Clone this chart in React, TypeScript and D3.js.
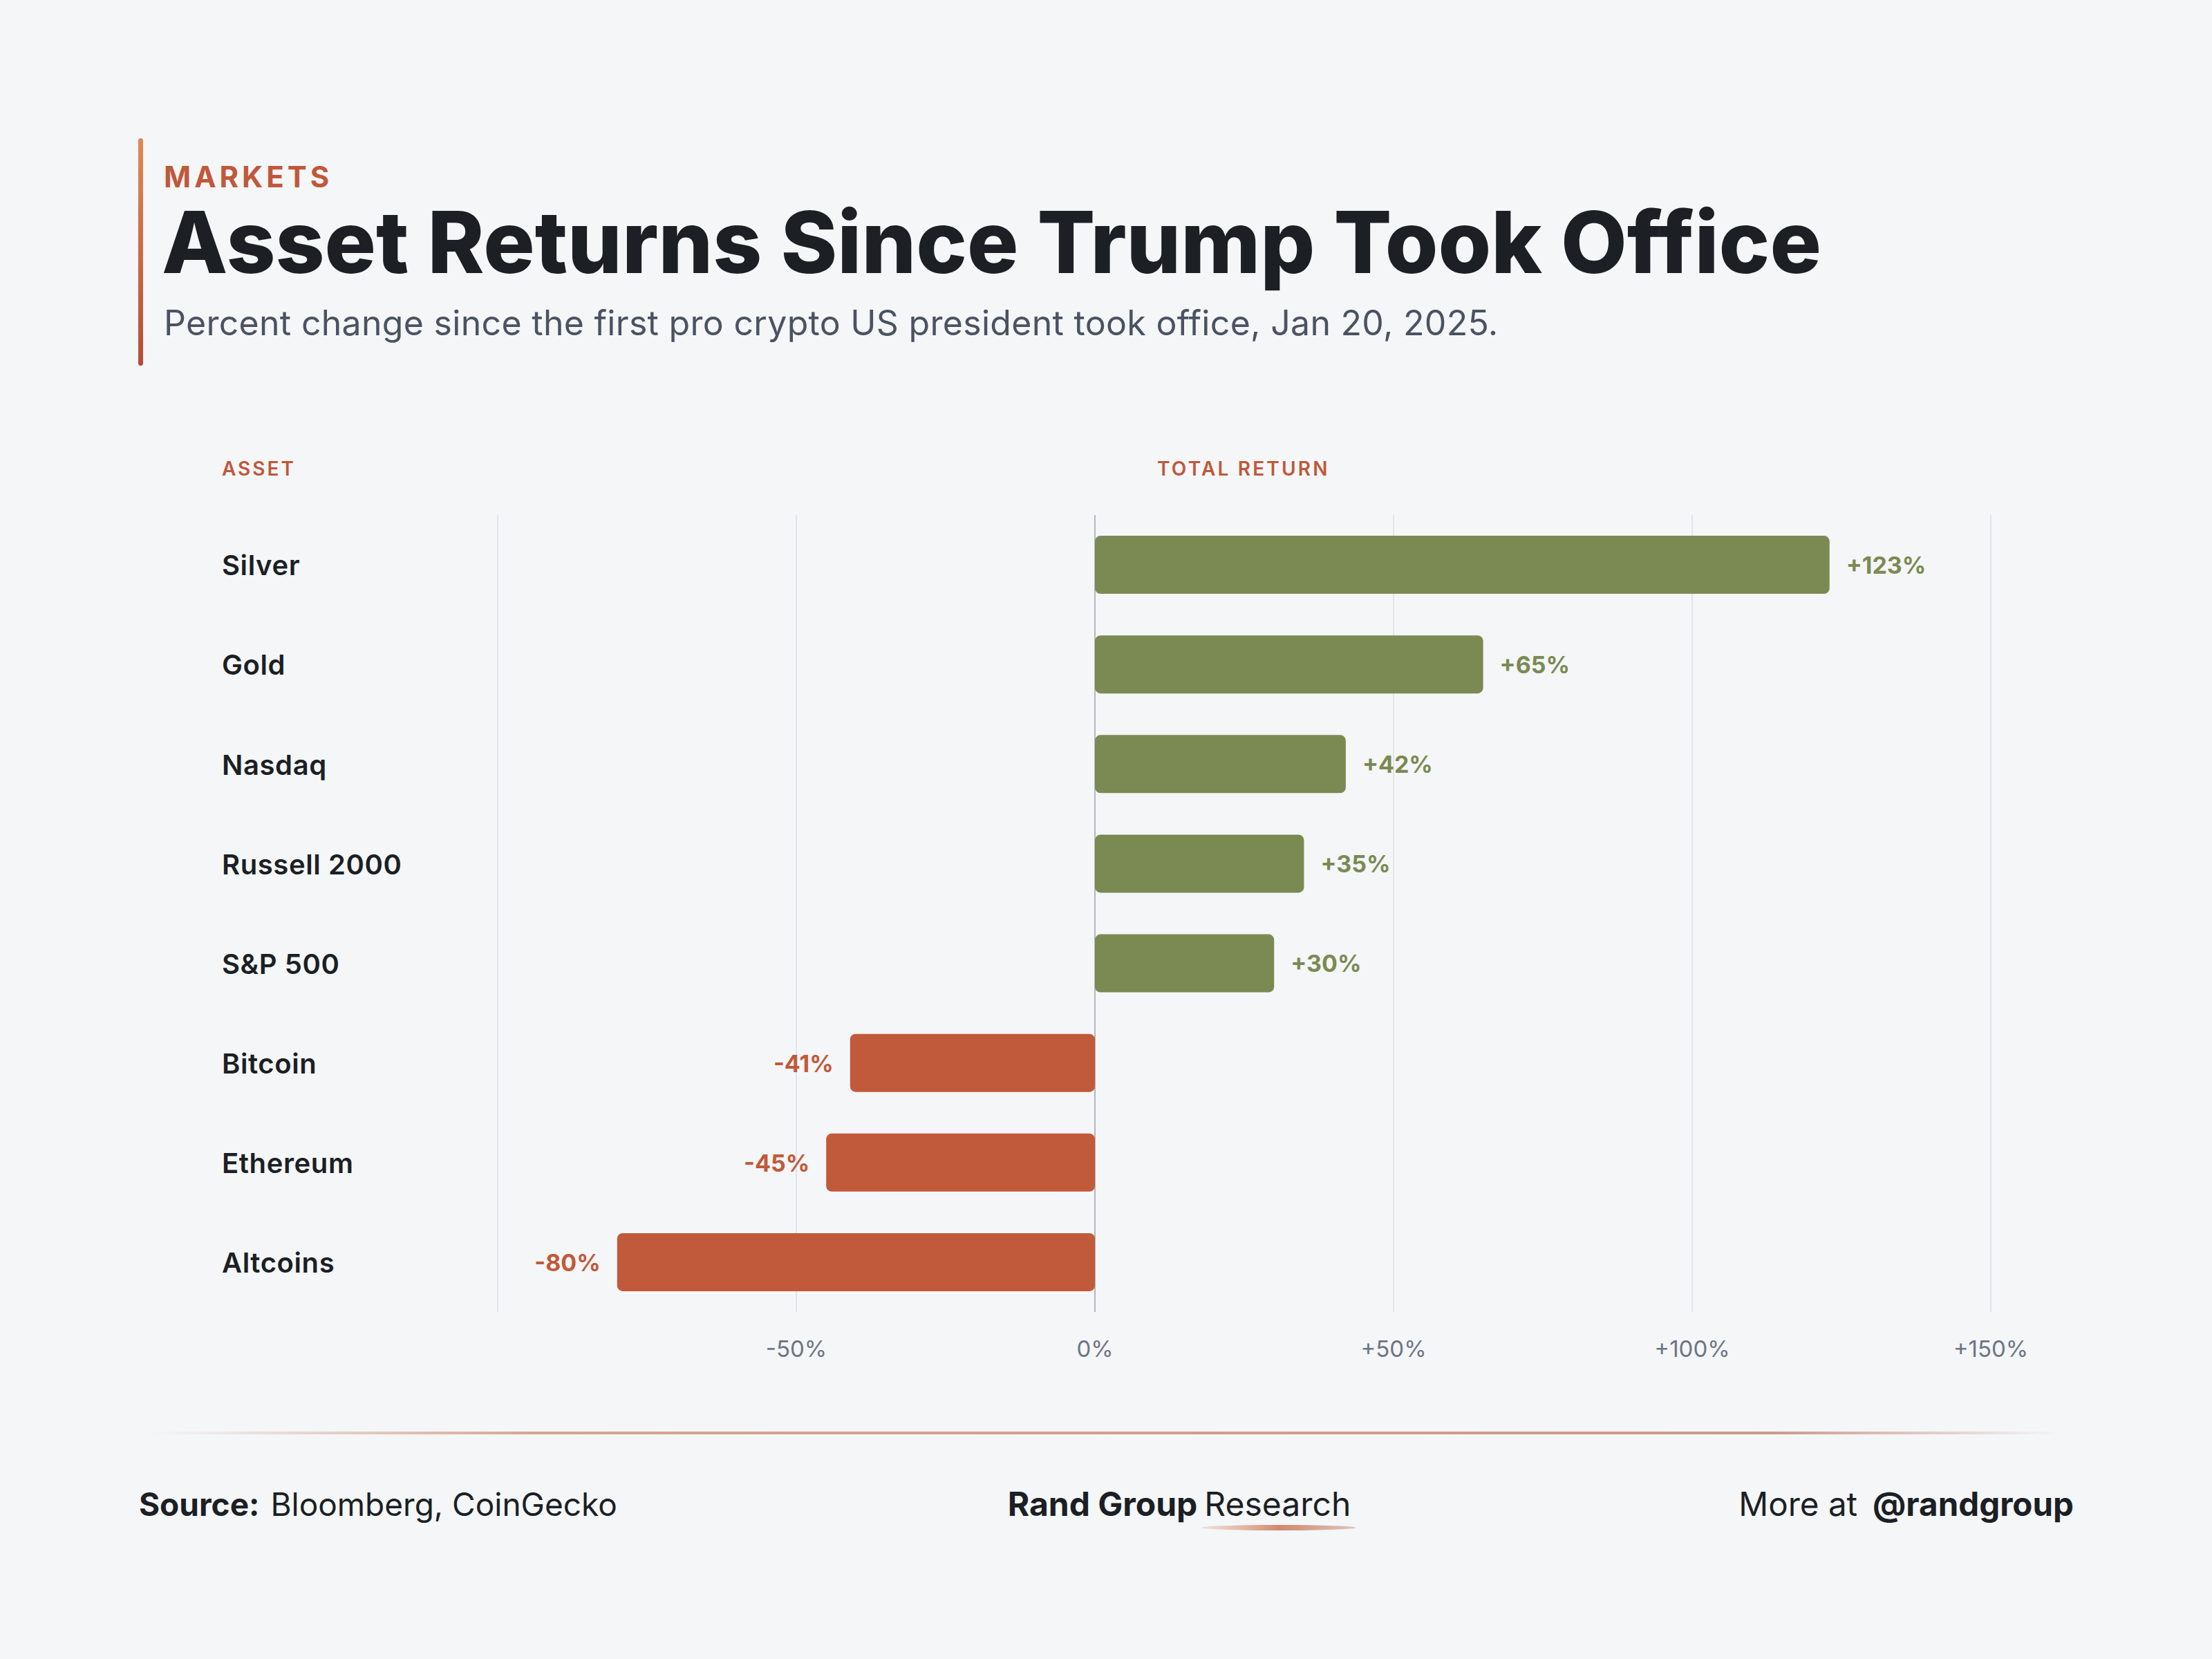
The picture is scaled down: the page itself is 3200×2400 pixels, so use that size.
import React, { useEffect, useRef } from 'react';
import * as d3 from 'd3';

const assets = ['Silver', 'Gold', 'Nasdaq', 'Russell 2000', 'S&P 500', 'Bitcoin', 'Ethereum', 'Altcoins'];
const returns = [123, 65, 42, 35, 30, -41, -45, -80];
const gridTicks = [-100, -50, 0, 50, 100, 150];
const tickLabels = ['', '-50%', '0%', '+50%', '+100%', '+150%'];

const W = 3200;
const H = 2400;
const FONT = 'Inter, "Noto Sans", "DejaVu Sans", sans-serif';
const GREEN = '#7b8a52';
const RED = '#c15a3a';
const ACCENT = '#c0583a';
const INK = '#1c1f24';

export default function App() {
    const svgRef = useRef<SVGSVGElement>(null);

    useEffect(() => {
        if (!svgRef.current) return;
        const svg = d3.select(svgRef.current);
        svg.selectAll('*').remove();

        const x = d3.scaleLinear().domain([-100, 150]).range([720, 2880]);
        const y = d3.scaleBand<string>()
            .domain(assets)
            .range([745, 1898])
            .paddingInner(0.417)
            .paddingOuter(0.2085);

        const defs = svg.append('defs');
        const accentGrad = defs.append('linearGradient')
            .attr('id', 'accentGrad')
            .attr('x1', '0%').attr('y1', '0%')
            .attr('x2', '0%').attr('y2', '100%');
        accentGrad.append('stop').attr('offset', '0%').attr('stop-color', '#dc8a55');
        accentGrad.append('stop').attr('offset', '100%').attr('stop-color', '#b44d38');

        const ruleGrad = defs.append('linearGradient')
            .attr('id', 'ruleGrad')
            .attr('x1', '0%').attr('y1', '0%')
            .attr('x2', '100%').attr('y2', '0%');
        ruleGrad.append('stop').attr('offset', '0%').attr('stop-color', '#d49b84').attr('stop-opacity', 0);
        ruleGrad.append('stop').attr('offset', '20%').attr('stop-color', '#d49b84').attr('stop-opacity', 0.9);
        ruleGrad.append('stop').attr('offset', '85%').attr('stop-color', '#c98e7c').attr('stop-opacity', 0.9);
        ruleGrad.append('stop').attr('offset', '100%').attr('stop-color', '#c98e7c').attr('stop-opacity', 0);

        const swooshGrad = defs.append('linearGradient')
            .attr('id', 'swooshGrad')
            .attr('x1', '0%').attr('y1', '0%')
            .attr('x2', '100%').attr('y2', '0%');
        swooshGrad.append('stop').attr('offset', '0%').attr('stop-color', '#e2a88c').attr('stop-opacity', 0.3);
        swooshGrad.append('stop').attr('offset', '50%').attr('stop-color', '#cf8a70');
        swooshGrad.append('stop').attr('offset', '100%').attr('stop-color', '#c77c62').attr('stop-opacity', 0.4);

        // Background
        svg.append('rect').attr('width', W).attr('height', H).attr('fill', '#f4f6f8');

        // Header
        svg.append('rect')
            .attr('x', 200).attr('y', 200)
            .attr('width', 7).attr('height', 329)
            .attr('rx', 3.5)
            .attr('fill', 'url(#accentGrad)');

        svg.append('text')
            .attr('x', 237).attr('y', 271)
            .attr('font-family', FONT)
            .attr('font-size', 42)
            .attr('font-weight', 700)
            .attr('letter-spacing', 5)
            .attr('fill', ACCENT)
            .text('MARKETS');

        svg.append('text')
            .attr('x', 234).attr('y', 395)
            .attr('font-family', FONT)
            .attr('font-size', 124)
            .attr('font-weight', 800)
            .attr('letter-spacing', 0)
            .attr('fill', INK)
            .text('Asset Returns Since Trump Took Office');

        svg.append('text')
            .attr('x', 237).attr('y', 485)
            .attr('font-family', FONT)
            .attr('font-size', 50)
            .attr('font-weight', 400)
            .attr('letter-spacing', 0.3)
            .attr('fill', '#4b5261')
            .text('Percent change since the first pro crypto US president took office, Jan 20, 2025.');

        // Column headers
        svg.append('text')
            .attr('x', 321).attr('y', 688)
            .attr('font-family', FONT)
            .attr('font-size', 28)
            .attr('font-weight', 600)
            .attr('letter-spacing', 3)
            .attr('fill', ACCENT)
            .text('ASSET');

        svg.append('text')
            .attr('x', 1674).attr('y', 688)
            .attr('font-family', FONT)
            .attr('font-size', 28)
            .attr('font-weight', 600)
            .attr('letter-spacing', 3.2)
            .attr('fill', ACCENT)
            .text('TOTAL RETURN');

        // Grid
        svg.append('g')
            .selectAll('line')
            .data(gridTicks)
            .join('line')
            .attr('x1', d => x(d)).attr('x2', d => x(d))
            .attr('y1', 745).attr('y2', 1898)
            .attr('stroke', d => d === 0 ? '#b3b7bd' : '#e2e4e8')
            .attr('stroke-width', 2);

        // Tick labels
        svg.append('g')
            .selectAll('text')
            .data(gridTicks)
            .join('text')
            .attr('x', d => x(d))
            .attr('y', 1963)
            .attr('text-anchor', 'middle')
            .attr('font-family', FONT)
            .attr('font-size', 33)
            .attr('fill', '#6e7583')
            .text((d, i) => tickLabels[i]);

        // Asset labels
        svg.append('g')
            .selectAll('text')
            .data(assets)
            .join('text')
            .attr('x', 321)
            .attr('y', d => y(d)! + y.bandwidth() / 2)
            .attr('dy', '0.38em')
            .attr('font-family', FONT)
            .attr('font-size', 40)
            .attr('font-weight', 600)
            .attr('letter-spacing', 0.6)
            .attr('fill', INK)
            .text(d => d);

        // Bars
        svg.append('g')
            .selectAll('rect')
            .data(assets)
            .join('rect')
            .attr('x', (d, i) => x(Math.min(0, returns[i])))
            .attr('y', d => y(d)!)
            .attr('width', (d, i) => Math.abs(x(returns[i]) - x(0)))
            .attr('height', y.bandwidth())
            .attr('rx', 8)
            .attr('fill', (d, i) => returns[i] >= 0 ? GREEN : RED);

        // Value labels
        svg.append('g')
            .selectAll('text')
            .data(assets)
            .join('text')
            .attr('x', (d, i) => x(returns[i]) + (returns[i] >= 0 ? 24 : -24))
            .attr('y', d => y(d)! + y.bandwidth() / 2)
            .attr('dy', '0.38em')
            .attr('text-anchor', (d, i) => returns[i] >= 0 ? 'start' : 'end')
            .attr('font-family', FONT)
            .attr('font-size', 34)
            .attr('font-weight', 700)
            .attr('fill', (d, i) => returns[i] >= 0 ? GREEN : RED)
            .text((d, i) => (returns[i] >= 0 ? '+' : '') + returns[i] + '%');

        // Footer rule
        svg.append('rect')
            .attr('x', 218).attr('y', 2071)
            .attr('width', 2762).attr('height', 4)
            .attr('fill', 'url(#ruleGrad)');

        // Footer texts
        const source = svg.append('text')
            .attr('x', 201).attr('y', 2193)
            .attr('font-family', FONT)
            .attr('font-size', 46)
            .attr('fill', INK);
        source.append('tspan').attr('font-weight', 700).text('Source:');
        source.append('tspan').attr('dx', 16).attr('font-weight', 400).text('Bloomberg, CoinGecko');

        const brand = svg.append('text')
            .attr('x', 1706).attr('y', 2193)
            .attr('text-anchor', 'middle')
            .attr('font-family', FONT)
            .attr('font-size', 48)
            .attr('fill', INK);
        brand.append('tspan').attr('font-weight', 700).text('Rand Group');
        brand.append('tspan').attr('dx', 10).attr('font-weight', 400).text('Research');

        svg.append('ellipse')
            .attr('cx', 1850).attr('cy', 2210)
            .attr('rx', 112).attr('ry', 4)
            .attr('fill', 'url(#swooshGrad)');

        const more = svg.append('text')
            .attr('x', 3000).attr('y', 2193)
            .attr('text-anchor', 'end')
            .attr('font-family', FONT)
            .attr('font-size', 47.5)
            .attr('fill', INK);
        more.append('tspan').attr('font-weight', 400).text('More at');
        more.append('tspan').attr('dx', 22).attr('font-weight', 700).text('@randgroup');
    }, []);

    return (
        <svg
            ref={svgRef}
            width={W}
            height={H}
            viewBox={`0 0 ${W} ${H}`}
            style={{ position: 'absolute', top: 0, left: 0, display: 'block' }}
        />
    );
}
